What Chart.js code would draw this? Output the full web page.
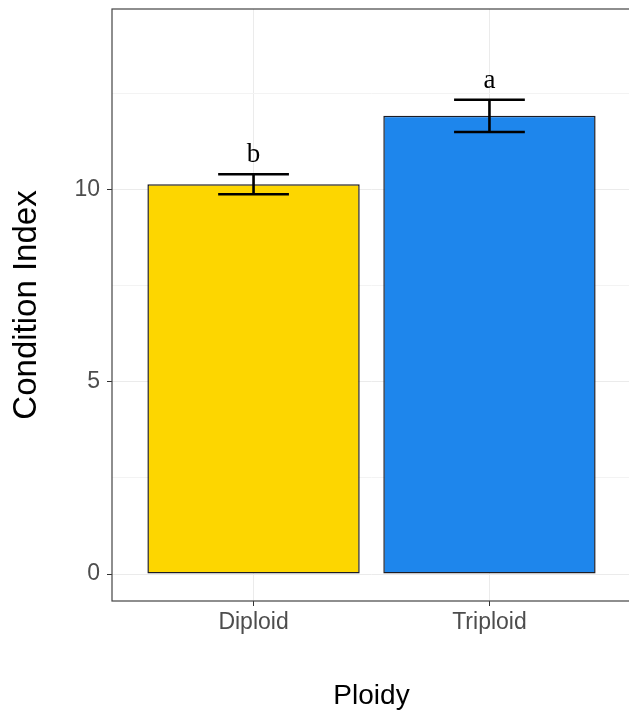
<!DOCTYPE html>
<html>
<head>
<meta charset="utf-8">
<script src="https://cdn.jsdelivr.net/npm/chart.js@4.4.1/dist/chart.umd.min.js"></script>
<style>
  html, body { margin: 0; padding: 0; background: #fff; overflow: hidden; }
  #wrap { width: 631px; height: 713px; }
</style>
</head>
<body>
<div id="wrap"><canvas id="myChart" width="631" height="713"></canvas></div>
<script>
// dados
const categories = ['Diploid', 'Triploid'];
const xPos = [1, 2];
const means = [10.14, 11.92];
const errs = [0.26, 0.42];
const letters = ['b', 'a'];
const barColors = ['#FDD600', '#1E86EC'];
const yTicks = [0, 2.5, 5, 7.5, 10, 12.5];

const tickFont = { family: 'Liberation Sans, Arial, sans-serif', size: 23 };

// barras de erro + letras de significância
const errorBars = {
    id: 'errorBars',
    afterDatasetsDraw(chart) {
        const ctx = chart.ctx;
        const x = chart.scales.x;
        const y = chart.scales.y;
        ctx.save();
        ctx.strokeStyle = '#000';
        ctx.lineWidth = 2.6;
        xPos.forEach((v, i) => {
            const cx = x.getPixelForValue(v);
            const half = x.getPixelForValue(v + 0.15) - cx;
            const top = y.getPixelForValue(means[i] + errs[i]);
            const bot = y.getPixelForValue(means[i] - errs[i]);
            ctx.beginPath();
            ctx.moveTo(cx, top); ctx.lineTo(cx, bot);
            ctx.moveTo(cx - half, top); ctx.lineTo(cx + half, top);
            ctx.moveTo(cx - half, bot); ctx.lineTo(cx + half, bot);
            ctx.stroke();

            ctx.fillStyle = '#000';
            ctx.font = '27px "Liberation Serif", "Times New Roman", serif';
            ctx.textAlign = 'center';
            ctx.textBaseline = 'alphabetic';
            ctx.fillText(letters[i], cx, top - 12);
        });
        ctx.restore();
    }
};

// borda do painel
const panelBorder = {
    id: 'panelBorder',
    afterDraw(chart) {
        const a = chart.chartArea;
        const ctx = chart.ctx;
        ctx.save();
        ctx.strokeStyle = '#444';
        ctx.lineWidth = 1.2;
        ctx.strokeRect(a.left, a.top, a.right - a.left, a.bottom - a.top);
        ctx.restore();
    }
};

const ctx = document.getElementById('myChart').getContext('2d');
const chart = new Chart(ctx, {
    type: 'bar',
    data: {
        datasets: [{
            data: xPos.map((v, i) => ({ x: v, y: means[i] })),
            backgroundColor: barColors,
            borderColor: '#1c1c24',
            borderWidth: 1.5,
            borderSkipped: false,
            categoryPercentage: 0.9,
            barPercentage: 1.0
        }]
    },
    options: {
        responsive: false,
        animation: false,
        layout: { padding: { top: 9, right: 0, left: 0, bottom: 0 } },
        plugins: {
            legend: { display: false },
            tooltip: { enabled: false }
        },
        scales: {
            x: {
                type: 'linear',
                offset: false,
                min: 0.4,
                max: 2.6,
                afterBuildTicks: (scale) => { scale.ticks = xPos.map(v => ({ value: v })); },
                afterFit: (scale) => {
                    scale.height = 112;
                    scale.paddingLeft = 0;
                    scale.paddingRight = 0;
                },
                ticks: {
                    autoSkip: false,
                    maxRotation: 0,
                    padding: 3,
                    color: '#4d4d4d',
                    font: tickFont,
                    callback: (v) => categories[xPos.indexOf(v)] || ''
                },
                grid: {
                    offset: false,
                    color: '#ebebeb',
                    lineWidth: 1,
                    tickLength: 5,
                    tickColor: '#333'
                },
                border: { display: false },
                title: {
                    display: true,
                    text: 'Ploidy',
                    color: '#000',
                    font: { family: 'Liberation Sans, Arial, sans-serif', size: 28 },
                    padding: { top: 0, bottom: 0 }
                }
            },
            y: {
                min: -0.7,
                max: 14.7,
                afterBuildTicks: (scale) => { scale.ticks = yTicks.map(v => ({ value: v })); },
                afterFit: (scale) => {
                    scale.width = 112;
                    scale.paddingTop = 0;
                    scale.paddingBottom = 0;
                },
                ticks: {
                    padding: 7,
                    color: '#4d4d4d',
                    font: tickFont,
                    callback: (v) => (v % 5 === 0 ? String(v) : '')
                },
                grid: {
                    color: (c) => (c.tick && c.tick.value % 5 === 0 ? '#ebebeb' : '#f3f3f3'),
                    lineWidth: 1,
                    tickLength: 5,
                    tickColor: (c) => (c.tick && c.tick.value % 5 === 0 ? '#333' : 'rgba(0,0,0,0)')
                },
                border: { display: false },
                title: {
                    display: true,
                    text: 'Condition Index',
                    color: '#000',
                    font: { family: 'Liberation Sans, Arial, sans-serif', size: 33 },
                    padding: { top: 7, bottom: 0 }
                }
            }
        }
    },
    plugins: [errorBars, panelBorder]
});
</script>
</body>
</html>
